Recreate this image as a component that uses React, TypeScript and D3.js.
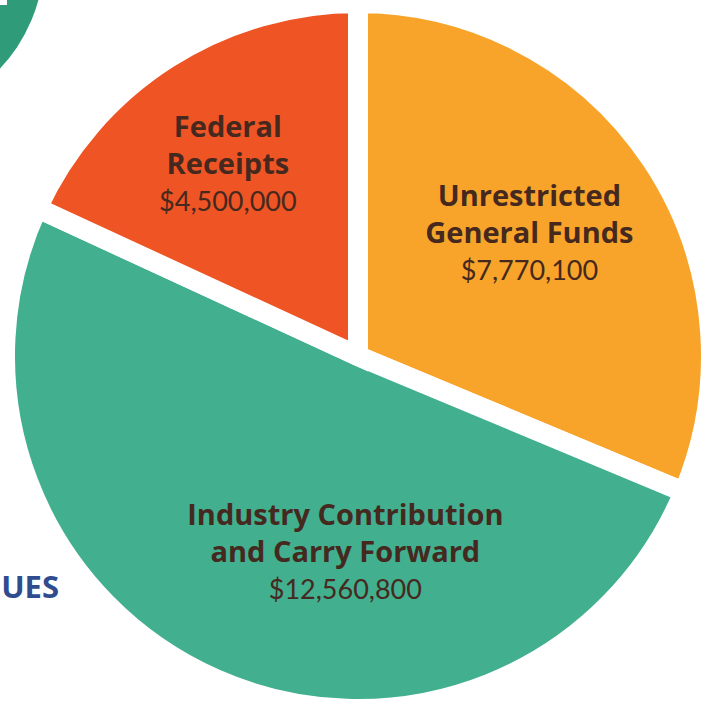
import { useEffect, useRef } from 'react'
import * as d3 from 'd3'

// slice data, clockwise from 12 o'clock
const categories = ['Unrestricted General Funds', 'Industry Contribution and Carry Forward', 'Federal Receipts']
const titleLines = [
  ['Unrestricted', 'General Funds'],
  ['Industry Contribution', 'and Carry Forward'],
  ['Federal', 'Receipts'],
]
const amounts = [7770100, 12560800, 4500000]
const amountLabels = ['$7,770,100', '$12,560,800', '$4,500,000']
const colors = ['#F8A42A', '#42AF8F', '#EF5425']

const W = 709
const H = 701
const CX = 358
const CY = 356
const R = 343       // visible radius
const GAP = 20      // white gap between slices
const TEXT = '#45291F'
const TITLE_FONT = '"Open Sans", sans-serif'
const VALUE_FONT = 'Lato, "Open Sans", sans-serif'

// label placement: angle nudge (deg) from slice bisector, distance from centre
const labelNudge = [-2, -20, -1.5]
const labelDist = [211, 196, 232]

export default function App() {
  const svgRef = useRef<SVGSVGElement>(null)

  useEffect(() => {
    const svg = d3.select(svgRef.current)
    svg.selectAll('*').remove()

    // decoration bits from the neighbouring graphic
    svg.append('circle')
      .attr('cx', -117).attr('cy', -42).attr('r', 161)
      .attr('fill', '#2F9B79')
    svg.append('rect')
      .attr('x', -10).attr('y', -10).attr('width', 17).attr('height', 15)
      .attr('fill', '#fff')

    svg.append('text')
      .attr('x', 59).attr('y', 598)
      .attr('text-anchor', 'end')
      .attr('fill', '#2F4D8E')
      .attr('font-family', TITLE_FONT)
      .attr('font-weight', 700)
      .attr('font-size', 31)
      .text('UES')

    const pie = d3.pie<number>().sort(null).value(d => d)
    const arcs = pie(amounts)

    const arc = d3.arc<d3.PieArcDatum<number>>()
      .innerRadius(0)
      .outerRadius(R + GAP / 2)

    const g = svg.append('g').attr('transform', `translate(${CX},${CY})`)

    g.selectAll('path.slice')
      .data(arcs)
      .join('path')
      .attr('class', 'slice')
      .attr('d', arc)
      .attr('fill', (_, i) => colors[i])
      .attr('stroke', '#fff')
      .attr('stroke-width', GAP)
      .attr('stroke-linejoin', 'miter')

    arcs.forEach((a, i) => {
      const mid = (a.startAngle + a.endAngle) / 2 + (labelNudge[i] * Math.PI) / 180
      const x = Math.sin(mid) * labelDist[i]
      const y = -Math.cos(mid) * labelDist[i]

      const t = g.append('text')
        .attr('text-anchor', 'middle')
        .attr('fill', TEXT)
        .attr('aria-label', categories[i])

      titleLines[i].forEach((line, j) => {
        t.append('tspan')
          .attr('x', x)
          .attr('y', y + (j - 1) * 37 + 10)
          .attr('font-family', TITLE_FONT)
          .attr('font-size', 29)
          .attr('font-weight', 700)
          .text(line)
      })
      t.append('tspan')
        .attr('x', x)
        .attr('y', y + 38 + 9)
        .attr('font-family', VALUE_FONT)
        .attr('font-size', 27)
        .attr('font-weight', 400)
        .text(amountLabels[i])
    })
  }, [])

  return (
    <div style={{ position: 'fixed', left: 0, top: 0, width: W, height: H, background: '#fff' }}>
      <svg ref={svgRef} width={W} height={H} style={{ display: 'block' }} />
    </div>
  )
}
